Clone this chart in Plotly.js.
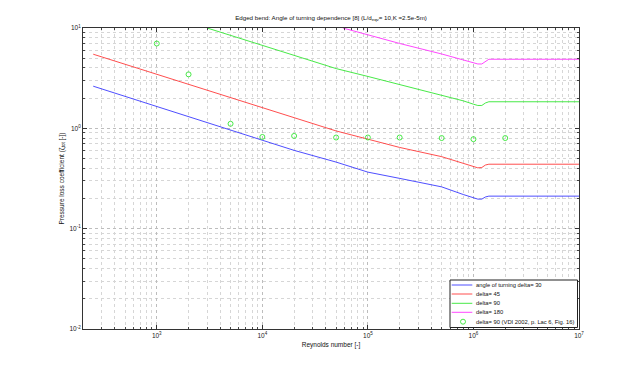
<!DOCTYPE html>
<html><head><meta charset="utf-8">
<script src="https://cdn.plot.ly/plotly-3.0.1.min.js"></script>
<style>html,body{margin:0;padding:0;background:#fff}#chart{width:640px;height:370px}</style>
</head><body><div id="chart"></div>
<script>
// ---- data ----
const seriesNames = ['angle of turning delta= 30', 'delta= 45', 'delta= 90', 'delta= 180', 'delta= 90 (VDI 2002, p. Lac 6, Fig. 16)'];
const seriesColors = ['#3a3aff', '#ff3a3a', '#33e633', '#ff33ff', '#33e633'];

const reBlue = [250, 500, 1000, 2000, 5000, 1e4, 2e4, 5e4, 1e5, 2e5, 5e5, 8e5, 1e6, 1.1e6, 1.2e6, 1.3e6, 1.4e6, 2e6, 5e6, 1e7];
const zetaBlue = [2.63, 2.08, 1.66, 1.31, 0.96, 0.76, 0.603, 0.461, 0.366, 0.317, 0.261, 0.219, 0.202, 0.197, 0.197, 0.207, 0.211, 0.211, 0.211, 0.211];

const reRed = [250, 500, 1000, 2000, 5000, 1e4, 2e4, 5e4, 1e5, 2e5, 5e5, 8e5, 1e6, 1.1e6, 1.2e6, 1.3e6, 1.4e6, 2e6, 5e6, 1e7];
const zetaRed = [5.48, 4.36, 3.44, 2.74, 2.01, 1.60, 1.27, 0.942, 0.780, 0.645, 0.522, 0.448, 0.415, 0.404, 0.407, 0.431, 0.439, 0.439, 0.439, 0.439];

const reGreen = [3000, 5000, 1e4, 2e4, 5e4, 1e5, 2e5, 5e5, 8e5, 1e6, 1.1e6, 1.2e6, 1.3e6, 1.4e6, 2e6, 5e6, 1e7];
const zetaGreen = [10.0, 8.46, 6.71, 5.30, 3.94, 3.29, 2.72, 2.15, 1.88, 1.74, 1.69, 1.69, 1.79, 1.84, 1.84, 1.84, 1.84];

const reMagenta = [5.8e4, 1e5, 2e5, 5e5, 8e5, 1e6, 1.1e6, 1.2e6, 1.3e6, 1.4e6, 2e6, 5e6, 1e7];
const zetaMagenta = [10.0, 8.53, 7.01, 5.51, 4.85, 4.49, 4.38, 4.38, 4.63, 4.88, 4.88, 4.88, 4.88];

const reVdi = [1e3, 2e3, 5e3, 1e4, 2e4, 5e4, 1e5, 2e5, 5e5, 1e6, 2e6];
const zetaVdi = [7.0, 3.45, 1.11, 0.82, 0.84, 0.81, 0.81, 0.81, 0.80, 0.78, 0.80];

const xTickVals = [1e3, 1e4, 1e5, 1e6, 1e7];
const xTickText = ['10<sup>3</sup>', '10<sup>4</sup>', '10<sup>5</sup>', '10<sup>6</sup>', '10<sup>7</sup>'];
const yTickVals = [0.01, 0.1, 1, 10];
const yTickText = ['10<sup>-2</sup>', '10<sup>-1</sup>', '10<sup>0</sup>', '10<sup>1</sup>'];

// ---- minor tick positions (2..9 of each decade) ----
function minorTicks(d0, d1, lo, hi) {
  const out = [];
  for (let d = d0; d <= d1; d++) for (let k = 2; k <= 9; k++) {
    const v = k * Math.pow(10, d);
    if (v > lo * 1.0001 && v < hi * 0.9999) out.push(v);
  }
  return out;
}
const minorX = minorTicks(2, 6, 200, 1e7);
const minorY = minorTicks(-2, 0, 0.01, 10);

const lineSets = [[reBlue, zetaBlue], [reRed, zetaRed], [reGreen, zetaGreen], [reMagenta, zetaMagenta]];
const traces = lineSets.map((s, i) => ({
  type: 'scatter', mode: 'lines', x: s[0], y: s[1], name: seriesNames[i],
  line: {color: seriesColors[i], width: 0.9}, showlegend: false
}));
traces.push({
  type: 'scatter', mode: 'markers', x: reVdi, y: zetaVdi, name: seriesNames[4],
  marker: {symbol: 'circle-open', size: 5, color: seriesColors[4], line: {width: 0.9, color: seriesColors[4]}},
  showlegend: false
});

// ---- manual legend (MATLAB style) ----
const L = 83, R = 579, T = 28, B = 329;
const px = v => (v - L) / (R - L);
const py = v => (B - v) / (B - T);
const rowsY = [285, 294, 303.3, 312.3, 321.7];
const shapes = [{
  type: 'rect', xref: 'paper', yref: 'paper', x0: px(450), x1: px(577.5), y0: py(327.5), y1: py(280),
  line: {color: '#222', width: 1}, fillcolor: '#ffffff', layer: 'above'
}];
const annotations = [];
rowsY.forEach((ry, i) => {
  if (i < 4) {
    shapes.push({type: 'line', xref: 'paper', yref: 'paper', x0: px(451.7), x1: px(472.3), y0: py(ry), y1: py(ry),
      line: {color: seriesColors[i], width: 0.9}, layer: 'above'});
  } else {
    shapes.push({type: 'circle', xref: 'paper', yref: 'paper', x0: px(460.5), x1: px(465.5), y0: py(ry + 2.5), y1: py(ry - 2.5),
      line: {color: seriesColors[i], width: 0.9}, layer: 'above'});
  }
  annotations.push({xref: 'paper', yref: 'paper', x: px(474), y: py(ry), xanchor: 'left', yanchor: 'middle',
    text: seriesNames[i], showarrow: false, font: {size: 5.8, color: '#111'}});
});

const axisCommon = {
  type: 'log', ticks: 'inside', ticklen: 4, tickcolor: '#333', showline: true, linecolor: '#333', linewidth: 1,
  mirror: 'ticks', showgrid: true, gridcolor: '#bdbdbd', griddash: 'dot', gridwidth: 1, zeroline: false,
  tickfont: {size: 6.5, color: '#222'}, tickmode: 'array', automargin: false
};

const layout = {
  width: 640, height: 370,
  margin: {l: L, r: 640 - R, t: T, b: 370 - B, pad: 0},
  paper_bgcolor: '#ffffff', plot_bgcolor: '#ffffff',
  font: {family: 'Liberation Sans, Arial, sans-serif', size: 6.5, color: '#222'},
  title: {text: 'Edged bend: Angle of turning dependence [8] (L/d<sub>eqv</sub>= 10,K =2.5e-5m)',
    x: 0.5, xref: 'paper', xanchor: 'center', y: 1 - 18 / 370, yref: 'container', yanchor: 'middle',
    font: {size: 6.2, color: '#111'}},
  xaxis: Object.assign({}, axisCommon, {
    range: [Math.log10(200), 7], tickvals: xTickVals, ticktext: xTickText,
    minor: {tickmode: 'array', tickvals: minorX, ticks: 'inside', ticklen: 2, tickcolor: '#444',
      showgrid: true, gridcolor: '#d6d6d6', griddash: 'dot', gridwidth: 1},
    title: {text: 'Reynolds number [-]', font: {size: 6.5, color: '#111'}, standoff: 4}
  }),
  yaxis: Object.assign({}, axisCommon, {
    range: [-2, 1], tickvals: yTickVals, ticktext: yTickText,
    minor: {tickmode: 'array', tickvals: minorY, ticks: 'inside', ticklen: 2, tickcolor: '#444',
      showgrid: true, gridcolor: '#d6d6d6', griddash: 'dot', gridwidth: 1},
    title: {text: 'Pressure loss coefficient (\u03b6<sub>tot</sub> [-])', font: {size: 6.5, color: '#111'}, standoff: 4}
  }),
  shapes: shapes,
  annotations: annotations,
  showlegend: false
};

Plotly.newPlot('chart', traces, layout, {displayModeBar: false, staticPlot: true});
</script>
</body></html>
